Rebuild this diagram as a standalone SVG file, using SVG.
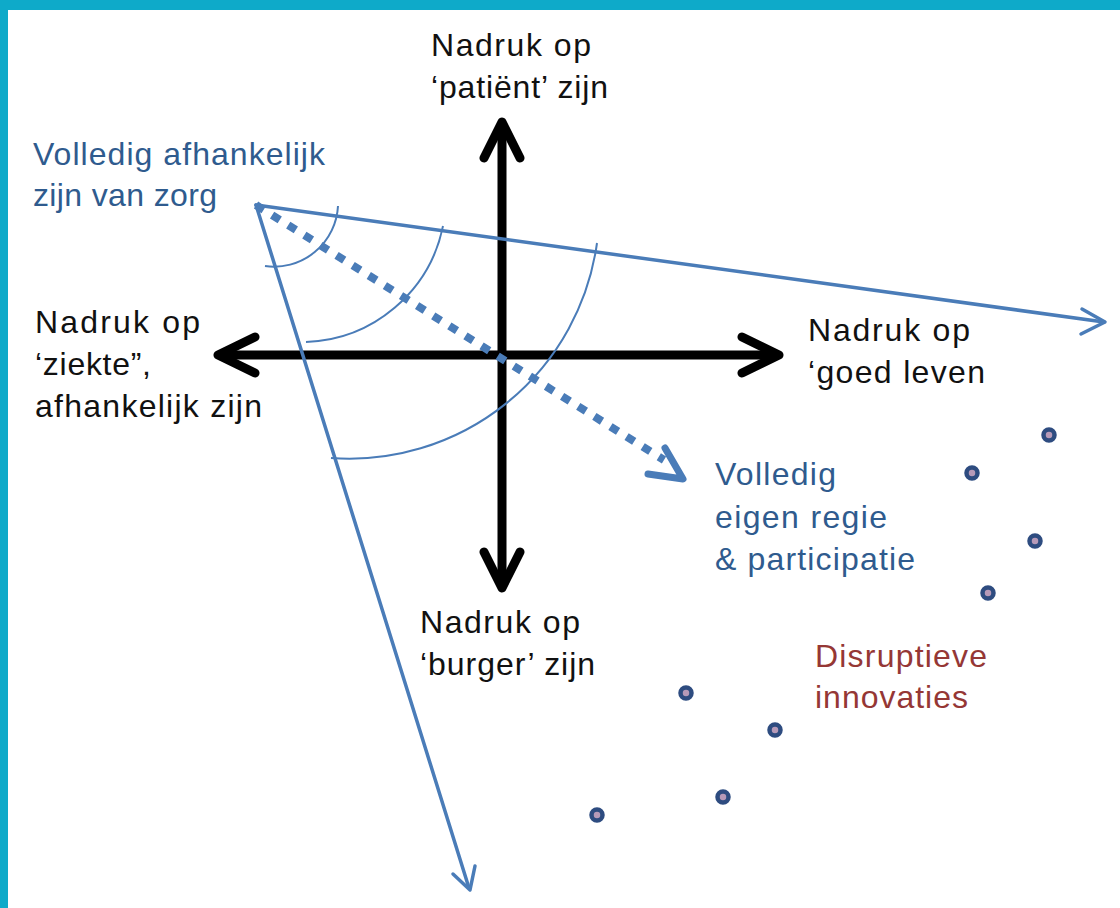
<svg xmlns="http://www.w3.org/2000/svg" width="1120" height="908" viewBox="0 0 1120 908">
<style>
.t{font-family:"Liberation Sans",Arial,sans-serif;font-size:32px}
.k{fill:#111}
.b{fill:#2f5b8e}
.r{fill:#953735}
.ax{stroke:#000;stroke-width:9;fill:none;stroke-linecap:round;stroke-linejoin:round}
.bl{stroke:#4a7cb8;stroke-width:3.5;fill:none;stroke-linecap:round;stroke-linejoin:round}
.arc{stroke:#4a7cb8;stroke-width:2;fill:none}
.dot{fill:#b79ab8;stroke:#2e4c80;stroke-width:4.5}
</style>
<rect x="0" y="0" width="1120" height="908" fill="#fff"/>
<rect x="0" y="0" width="1120" height="10" fill="#0eaac9"/>
<rect x="0" y="0" width="8" height="908" fill="#0eaac9"/>
<g id="connectors">
  <g id="axes">
    <path class="ax" d="M502,124 V586"/>
    <path class="ax" d="M484,158 L502,122 L520,158"/>
    <path class="ax" d="M484,552 L502,588 L520,552"/>
    <path class="ax" d="M220,355 H776"/>
    <path class="ax" d="M255,337 L218,355 L255,373"/>
    <path class="ax" d="M742,337 L779,355 L742,373"/>
  </g>
  <g id="fan">
    <path class="bl" d="M256,205 L1104,322"/>
    <path class="bl" d="M1082,309 L1105,322 L1081,334"/>
    <path class="bl" d="M256,205 L469,888"/>
    <path class="bl" d="M453,874 L470,890 L475,866"/>
    <path d="M256,205 L664,460" stroke="#4a7cb8" stroke-width="8" stroke-dasharray="9 10" fill="none"/>
    <path d="M665,448 L683,479 L648,474" stroke="#4a7cb8" stroke-width="7" fill="none" stroke-linecap="round" stroke-linejoin="round"/>
    <path class="arc" d="M338,206 A64,64 0 0 1 265,266"/>
    <path class="arc" d="M443,226 A145,145 0 0 1 306,342"/>
    <path class="arc" d="M597,243 A250,250 0 0 1 331,458"/>
  </g>
</g>
<g id="node-top">
  <text class="t k" x="431" y="56" textLength="160">Nadruk op</text>
  <text class="t k" x="431" y="98" textLength="177">‘patiënt’ zijn</text>
</g>
<g id="node-left">
  <text class="t k" x="35" y="333" textLength="165">Nadruk op</text>
  <text class="t k" x="35" y="375" textLength="116">‘ziekte”,</text>
  <text class="t k" x="35" y="417" textLength="227">afhankelijk zijn</text>
</g>
<g id="node-right">
  <text class="t k" x="808" y="341" textLength="162">Nadruk op</text>
  <text class="t k" x="808" y="383" textLength="177">‘goed leven</text>
</g>
<g id="node-bottom">
  <text class="t k" x="420" y="633" textLength="160">Nadruk op</text>
  <text class="t k" x="420" y="675" textLength="175">‘burger’ zijn</text>
</g>
<g id="node-dependent">
  <text class="t b" x="33" y="165" textLength="292">Volledig afhankelijk</text>
  <text class="t b" x="33" y="206" textLength="184">zijn van zorg</text>
</g>
<g id="node-regie">
  <text class="t b" x="715" y="485" textLength="121">Volledig</text>
  <text class="t b" x="715" y="528" textLength="172">eigen regie</text>
  <text class="t b" x="715" y="570" textLength="200">&amp; participatie</text>
</g>
<g id="node-disruptive">
  <text class="t r" x="815" y="667" textLength="172">Disruptieve</text>
  <text class="t r" x="815" y="708" textLength="153">innovaties</text>
</g>
<g id="dots">
  <circle class="dot" cx="1049" cy="435" r="5.5"/>
  <circle class="dot" cx="972" cy="473" r="5.5"/>
  <circle class="dot" cx="1035" cy="541" r="5.5"/>
  <circle class="dot" cx="988" cy="593" r="5.5"/>
  <circle class="dot" cx="686" cy="693" r="5.5"/>
  <circle class="dot" cx="775" cy="730" r="5.5"/>
  <circle class="dot" cx="723" cy="797" r="5.5"/>
  <circle class="dot" cx="597" cy="815" r="5.5"/>
</g>
</svg>
